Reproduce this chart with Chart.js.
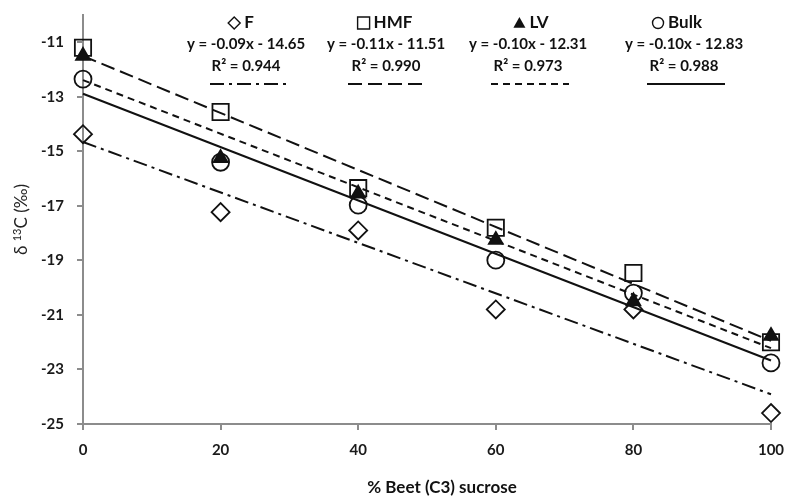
<!DOCTYPE html>
<html>
<head>
<meta charset="utf-8">
<script src="https://cdn.jsdelivr.net/npm/chart.js@4"></script>
<style>
  html, body { margin: 0; padding: 0; background: #fff; }
</style>
</head>
<body>
<canvas id="isoChart" width="788" height="500"></canvas>
<script>
// % beet (C3) sucrose in each blend
const beetPercent = [0, 20, 40, 60, 80, 100];
// delta 13C values read for each fraction
const fValues = [-14.37, -17.23, -17.9, -20.8, -20.8, -24.6];
const hmfValues = [-11.2, -13.56, -16.35, -17.8, -19.46, -22.0];
const lvValues = [-11.5, -15.25, -16.55, -18.25, -20.5, -21.77];
const bulkValues = [-12.35, -15.4, -16.97, -18.99, -20.2, -22.76];

const xTicks = [0, 20, 40, 60, 80, 100];
const yTicks = [-25, -23, -21, -19, -17, -15, -13, -11];

const seriesNames = ["F", "HMF", "LV", "Bulk"];
const equations = ["y = -0.09x - 14.65", "y = -0.11x - 11.51", "y = -0.10x - 12.31", "y = -0.10x - 12.83"];
const rSquared = ["R² = 0.944", "R² = 0.990", "R² = 0.973", "R² = 0.988"];

// look of each series (marker + trendline dash)
const markers = ["rectRot", "rect", "triangle", "circle"];
const markerSizes = [9, 11.5, 8, 8.5];
const dashes = [[14, 5, 3, 5], [14, 6], [7, 5], []];
const ink = "#111";

// least squares line through a series
function fitLine(xs, ys) {
    const n = xs.length;
    const mx = xs.reduce((a, b) => a + b, 0) / n;
    const my = ys.reduce((a, b) => a + b, 0) / n;
    let sxy = 0, sxx = 0;
    for (let i = 0; i < n; i++) {
        sxy += (xs[i] - mx) * (ys[i] - my);
        sxx += (xs[i] - mx) * (xs[i] - mx);
    }
    const slope = sxy / sxx;
    return { slope: slope, intercept: my - slope * mx };
}

const allValues = [fValues, hmfValues, lvValues, bulkValues];
const xMin = beetPercent[0], xMax = beetPercent[beetPercent.length - 1];

const trendSets = allValues.map((vals, i) => {
    const f = fitLine(beetPercent, vals);
    return {
        type: "line",
        data: [{ x: xMin, y: f.intercept + f.slope * xMin }, { x: xMax, y: f.intercept + f.slope * xMax }],
        borderColor: ink,
        borderWidth: 2,
        borderDash: dashes[i],
        pointRadius: 0,
        fill: false,
        clip: false,
        order: 10
    };
});

// LV on top, then Bulk, HMF, F
const markerOrder = [4, 3, 1, 2];
const pointSets = allValues.map((vals, i) => ({
    type: "scatter",
    label: seriesNames[i],
    data: beetPercent.map((x, j) => ({ x: x, y: vals[j] })),
    pointStyle: markers[i],
    pointRadius: markerSizes[i],
    pointBorderColor: ink,
    pointBackgroundColor: markers[i] === "triangle" ? ink : "rgba(0,0,0,0)",
    pointBorderWidth: 1.8,
    showLine: false,
    clip: false,
    order: markerOrder[i]
}));

function drawMarker(ctx, style, x, y, r) {
    ctx.beginPath();
    if (style === "rectRot") {
        ctx.moveTo(x - r, y); ctx.lineTo(x, y - r); ctx.lineTo(x + r, y); ctx.lineTo(x, y + r); ctx.closePath();
        ctx.stroke();
    } else if (style === "rect") {
        ctx.rect(x - r, y - r, 2 * r, 2 * r);
        ctx.stroke();
    } else if (style === "triangle") {
        ctx.moveTo(x, y - r); ctx.lineTo(x + r, y + r * 0.8); ctx.lineTo(x - r, y + r * 0.8); ctx.closePath();
        ctx.fill();
    } else {
        ctx.arc(x, y, r, 0, Math.PI * 2);
        ctx.stroke();
    }
}

// legend boxes with the trend equations, plus axis titles
const titleCx = [241, 385, 531, 677];
const textCx = [246, 386, 528, 684];
const lineCx = [249, 387, 530, 686];

const annotations = {
    id: "annotations",
    afterDraw(chart) {
        const ctx = chart.ctx;
        ctx.save();
        ctx.fillStyle = ink;
        ctx.strokeStyle = ink;
        ctx.textBaseline = "middle";
        for (let i = 0; i < seriesNames.length; i++) {
            ctx.font = "bold 17px Lato";
            const nameW = ctx.measureText(seriesNames[i]).width;
            const markW = 12, gap = 4;
            const left = titleCx[i] - (markW + gap + nameW) / 2;
            ctx.lineWidth = 1.4;
            drawMarker(ctx, markers[i], left + markW / 2, 23, markers[i] === "circle" ? 5.5 : 6);
            ctx.textAlign = "left";
            ctx.fillText(seriesNames[i], left + markW + gap, 23);

            ctx.font = "bold 15px Lato";
            ctx.textAlign = "center";
            ctx.fillText(equations[i], textCx[i], 44);
            ctx.fillText(rSquared[i], textCx[i], 66);

            ctx.lineWidth = 2;
            ctx.setLineDash(dashes[i]);
            ctx.beginPath();
            ctx.moveTo(lineCx[i] - 39, 84);
            ctx.lineTo(lineCx[i] + 39, 84);
            ctx.stroke();
            ctx.setLineDash([]);
        }

        // x axis title
        ctx.font = "bold 17px Lato";
        ctx.textAlign = "center";
        ctx.fillText("% Beet (C3) sucrose", 442, 488);

        // y axis title with superscript 13
        const area = chart.chartArea;
        ctx.translate(22, (area.top + area.bottom) / 2);
        ctx.rotate(-Math.PI / 2);
        const big = "17px Lato", small = "11px Lato";
        ctx.font = big; const w1 = ctx.measureText("δ ").width;
        ctx.font = small; const w2 = ctx.measureText("13").width;
        ctx.font = big; const w3 = ctx.measureText("C (‰)").width;
        let x = -(w1 + w2 + w3) / 2;
        ctx.textAlign = "left";
        ctx.fillStyle = "#222";
        ctx.font = big; ctx.fillText("δ ", x, 0); x += w1;
        ctx.font = small; ctx.fillText("13", x, -5); x += w2;
        ctx.font = big; ctx.fillText("C (‰)", x, 0);
        ctx.restore();
    }
};

const axisGray = "#8c8c8c";
const tickFont = { family: "Lato", size: 15, weight: "bold" };

function renderIsotopeChart() {
    const ctx = document.getElementById("isoChart").getContext("2d");
    new Chart(ctx, {
        data: { datasets: trendSets.concat(pointSets) },
        options: {
            responsive: false,
            animation: false,
            layout: { padding: { top: 15, right: 17, left: 0, bottom: 0 } },
            plugins: {
                legend: { display: false },
                tooltip: { enabled: false }
            },
            scales: {
                x: {
                    type: "linear",
                    min: xMin,
                    max: xMax,
                    afterBuildTicks: s => { s.ticks = xTicks.map(v => ({ value: v })); },
                    afterFit: s => { s.height = 76; s.paddingLeft = 0; s.paddingRight = 0; },
                    border: { color: axisGray, width: 2 },
                    grid: { drawOnChartArea: false, drawTicks: true, tickLength: 6, color: axisGray, lineWidth: 2 },
                    ticks: { font: tickFont, color: "#1a1a1a", padding: 11, maxRotation: 0 }
                },
                y: {
                    type: "linear",
                    min: -25,
                    max: -10,
                    afterBuildTicks: s => { s.ticks = yTicks.map(v => ({ value: v })); },
                    afterFit: s => { s.width = 83; s.paddingTop = 0; s.paddingBottom = 0; },
                    border: { color: axisGray, width: 2 },
                    grid: { drawOnChartArea: false, drawTicks: true, tickLength: 6, color: axisGray, lineWidth: 2 },
                    ticks: { font: tickFont, color: "#1a1a1a", padding: 13 }
                }
            }
        },
        plugins: [annotations]
    });
}

document.addEventListener("DOMContentLoaded", renderIsotopeChart);
</script>
</body>
</html>
